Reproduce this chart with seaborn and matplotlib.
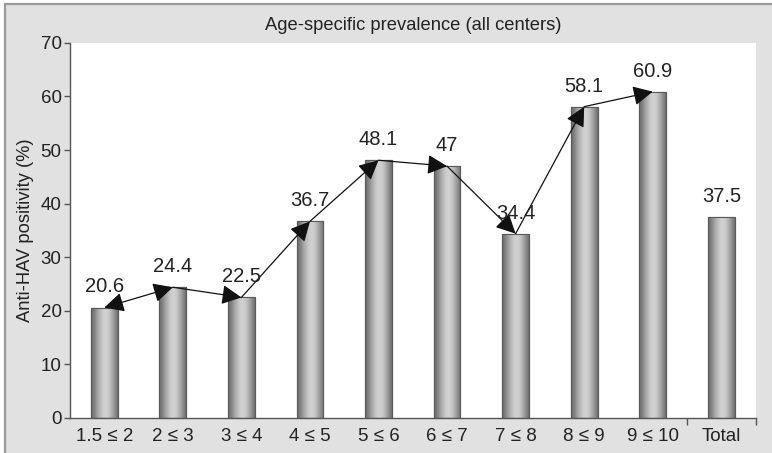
import numpy as np
import pandas as pd
import seaborn as sns
from matplotlib import pyplot as plt
from matplotlib.patches import Rectangle

# data
groups = ["1.5 \u2264 2", "2 \u2264 3", "3 \u2264 4", "4 \u2264 5", "5 \u2264 6",
          "6 \u2264 7", "7 \u2264 8", "8 \u2264 9", "9 \u2264 10", "Total"]
prevalence = [20.6, 24.4, 22.5, 36.7, 48.1, 47, 34.4, 58.1, 60.9, 37.5]
labels = ["20.6", "24.4", "22.5", "36.7", "48.1", "47", "34.4", "58.1", "60.9", "37.5"]
yticks = [0, 10, 20, 30, 40, 50, 60, 70]

df = pd.DataFrame({"group": groups, "prev": prevalence})

sns.set_style("white")
plt.rcParams["font.family"] = ["Liberation Sans", "DejaVu Sans"]

fig = plt.figure(figsize=(7.72, 4.53), dpi=100, facecolor="white")
fig.patches.append(Rectangle((0.0065, -0.02), 1.01, 1.011, transform=fig.transFigure,
                             facecolor="#e1e1e1", edgecolor="#9a9a9a", lw=1.6, zorder=-10))
ax = fig.add_axes([0.0907, 0.0773, 0.888, 0.828])
ax.set_facecolor("white")

sns.barplot(data=df, x="group", y="prev", color="#a8a8a8", width=0.39,
            edgecolor="#5a5a5a", linewidth=0.8, ax=ax)

# cylinder-like shading on each bar
grad = np.array([0.42, 0.5, 0.62, 0.72, 0.8, 0.82, 0.78, 0.68, 0.56, 0.44])
grad = np.interp(np.linspace(0, 9, 60), np.arange(10), grad)[None, :]
for p in ax.patches:
    x0, y0 = p.get_x(), p.get_y()
    w, h = p.get_width(), p.get_height()
    im = ax.imshow(grad, cmap="gray", vmin=0, vmax=1, aspect="auto",
                   extent=(x0, x0 + w, y0, y0 + h), zorder=2, interpolation="bilinear")
    im.set_clip_path(p)
    p.set_zorder(1)
    ax.add_patch(Rectangle((x0, y0), w, h, fill=False, edgecolor="#5a5a5a", lw=0.8, zorder=3))

# connecting arrows (age groups only)
for i in range(8):
    style = "<|-|>" if i == 0 else "-|>"
    ax.annotate("", xy=(i + 1, prevalence[i + 1]), xytext=(i, prevalence[i]),
                arrowprops=dict(arrowstyle=style + ",head_length=0.6,head_width=0.3",
                                color="#111111", lw=0.9, mutation_scale=20,
                                shrinkA=0, shrinkB=0), zorder=5)

for i, (v, t) in enumerate(zip(prevalence, labels)):
    ax.annotate(t, (i, v), xytext=(0, 8), textcoords="offset points",
                ha="center", va="bottom", fontsize=14.5, color="#222222", zorder=6)

ax.set_xlim(-0.5, 9.5)
ax.set_ylim(0, 70)
ax.set_yticks(yticks)
ax.set_xlabel("")
ax.set_ylabel("Anti-HAV positivity (%)", fontsize=13.2, color="#222222", labelpad=5)
ax.set_title("Age-specific prevalence (all centers)", fontsize=13.2, color="#222222", pad=9)

for s in ["top", "right"]:
    ax.spines[s].set_visible(False)
for s in ["left", "bottom"]:
    ax.spines[s].set_color("#555555")
    ax.spines[s].set_linewidth(1.0)

ax.tick_params(axis="y", left=True, length=4, width=1, color="#555555",
               labelsize=13.5, labelcolor="#222222", pad=2)
ax.tick_params(axis="x", bottom=False, labelsize=13.5, labelcolor="#222222", pad=4)
ax.set_xticks([8.5, 9.5], minor=True)
ax.tick_params(axis="x", which="minor", bottom=True, length=5, width=1, color="#555555")

fig.savefig("out.png", dpi=100, facecolor=fig.get_facecolor())
